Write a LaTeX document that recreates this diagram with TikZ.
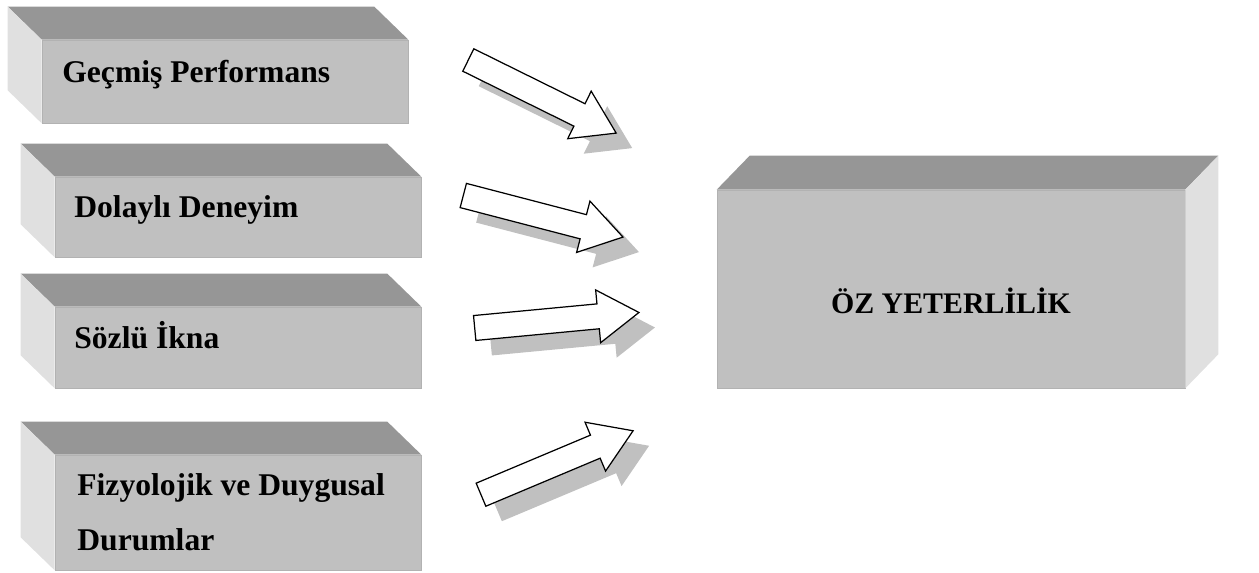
\documentclass[tikz,border=0pt]{standalone}
\usepackage{fontspec}
\setmainfont{Liberation Serif}
\usetikzlibrary{calc}

\definecolor{frontgray}{HTML}{C0C0C0}
\definecolor{topgray}{HTML}{969696}
\definecolor{sidegray}{HTML}{E0E0E0}
\definecolor{shadegray}{HTML}{C0C0C0}

\begin{document}
\begin{tikzpicture}[x=0.02cm, y=-0.02cm,
    face/.style={rectangle, fill=frontgray, draw=black!30, line width=0.4pt, inner sep=0pt},
    smallface/.style={face, minimum width=7.32cm},
    boxtext/.style={inner sep=0pt, font=\bfseries\fontsize{18}{21.6}\selectfont},
    bigtext/.style={inner sep=0pt, font=\bfseries\fontsize{17}{20.4}\selectfont},
    arrowline/.style={fill=white, draw=black, line width=0.7pt, miter limit=20},
    arrowshadow/.style={fill=shadegray}]
    \useasboundingbox (0,0) rectangle (1259,572);

    % front faces
    \node[smallface, minimum height=1.66cm] at (225, 81.5) (gp) {};
    \node[smallface, minimum height=1.60cm] at (238, 217) (dd) {};
    \node[smallface, minimum height=1.62cm] at (238, 347.5) (si) {};
    \node[smallface, minimum height=2.30cm] at (238, 512.5) (fd) {};
    \node[face, minimum width=9.36cm, minimum height=3.96cm] at (951, 289) (oz) {};

    % top and left faces of the small blocks
    \foreach \b in {gp, dd, si, fd} {
        \fill[topgray] (\b.north west) -- ++(-34,-33)
            -- ($(\b.north east)+(-34,-33)$) -- (\b.north east) -- cycle;
        \fill[sidegray] (\b.north west) -- ++(-34,-33)
            -- ($(\b.south west)+(-34,-33)$) -- (\b.south west) -- cycle;
    }
    % top and right faces of the big block
    \fill[topgray] (oz.north west) -- ++(33,-34)
        -- ($(oz.north east)+(33,-34)$) -- (oz.north east) -- cycle;
    \fill[sidegray] (oz.north east) -- ++(33,-34)
        -- ($(oz.south east)+(33,-34)$) -- (oz.south east) -- cycle;

    % labels
    \node[boxtext, anchor=base west] at (62, 82) (gpT) {Geçmiş Performans};
    \node[boxtext, anchor=base west] at (74, 217) (ddT) {Dolaylı Deneyim};
    \node[boxtext, anchor=base west] at (74, 348) (siT) {Sözlü İkna};
    \node[boxtext, anchor=base west] at (77, 495) (fdT) {Fizyolojik ve Duygusal};
    \node[boxtext, anchor=base west] at (77, 550) (fdT2) {Durumlar};
    \node[bigtext, anchor=base] at (951, 313) (ozT) {ÖZ YETERLİLİK};

    % block arrows: tail middle and angle
    \foreach \x/\y/\a in {468.3/60/-26.3, 463.3/195.5/-14.6, 474.7/328/5.4, 481/494.7/22.8} {
        \fill[arrowshadow, shift={(\x+16,\y+15)}, rotate=\a]
            (0,-12.5) -- (124,-12.5) -- (124,-26.5) -- (165,0)
            -- (124,26.5) -- (124,12.5) -- (0,12.5) -- cycle;
        \draw[arrowline, shift={(\x,\y)}, rotate=\a]
            (0,-12.5) -- (124,-12.5) -- (124,-26.5) -- (165,0)
            -- (124,26.5) -- (124,12.5) -- (0,12.5) -- cycle;
    }
\end{tikzpicture}
\end{document}
